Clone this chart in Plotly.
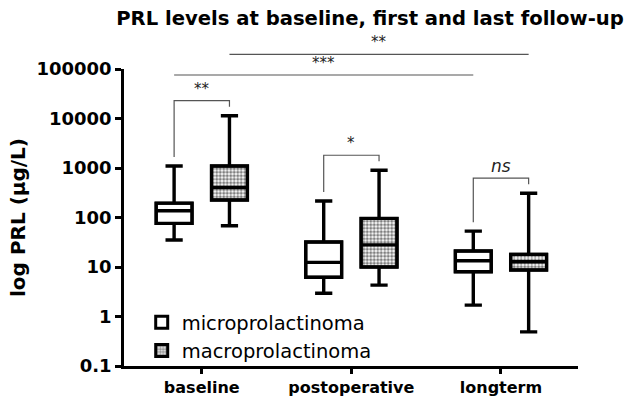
import numpy as np
import plotly.graph_objects as go

categories = ["baseline", "postoperative", "longterm"]
series_names = ["microprolactinoma", "macroprolactinoma"]

micro_min = [35, 2.95, 1.7]
micro_q1 = [76, 6.2, 8.0]
micro_med = [137, 12.4, 13.4]
micro_q3 = [195, 32, 21]
micro_max = [1100, 215, 53]

macro_min = [68, 4.3, 0.49]
macro_q1 = [225, 10, 8.7]
macro_med = [405, 28, 12.8]
macro_q3 = [1100, 96, 18]
macro_max = [11400, 900, 310]

pair_labels = ["**", "*", "ns"]
long_labels = ["***", "**"]

ytick_vals = [0.1, 1, 10, 100, 1000, 10000, 100000]
ytick_text = ["0.1", "1", "10", "100", "1000", "10000", "100000"]

FONT = "DejaVu Sans, Verdana, sans-serif"
OFF = 0.185
W = 0.24
idx = np.arange(len(categories))
xm = idx - OFF
xM = idx + OFF

fig = go.Figure()
fig.add_trace(go.Bar(x=xm, base=micro_q1, y=np.array(micro_q3) - np.array(micro_q1), width=W,
                     marker=dict(color="white", line=dict(color="black", width=3)),
                     name=series_names[0], showlegend=True, hoverinfo="skip"))
fig.add_trace(go.Bar(x=xM, base=macro_q1, y=np.array(macro_q3) - np.array(macro_q1), width=W,
                     marker=dict(color="white", line=dict(color="black", width=3),
                                 pattern=dict(shape=".", fgcolor="black", bgcolor="white", size=3.5, solidity=0.6)),
                     name=series_names[1], showlegend=True, hoverinfo="skip"))
for xs, mn, q1, md, q3, mx in [(xm, micro_min, micro_q1, micro_med, micro_q3, micro_max),
                               (xM, macro_min, macro_q1, macro_med, macro_q3, macro_max)]:
    fig.add_trace(go.Box(x=xs, lowerfence=mn, q1=q1, median=md, q3=q3, upperfence=mx,
                         width=W, whiskerwidth=0.48, boxpoints=False,
                         line=dict(color="black", width=3.4), fillcolor="rgba(0,0,0,0)",
                         showlegend=False, hoverinfo="skip"))

XR = [-0.52, 2.515]
YR = [-1, 5]
PLOT_H = 297.0
def xp(x):
    return (x - XR[0]) / (XR[1] - XR[0])
def yp(v):
    return (np.log10(v) - YR[0]) / (YR[1] - YR[0])
def px(n):
    return n / PLOT_H

shapes = []
annotations = []
LC = "#555555"
for i in range(len(categories)):
    yl = yp(micro_max[i]) + px(9)
    yr = yp(macro_max[i]) + px(9)
    ytop = max(yl, yr) + px(6)
    shapes.append(dict(type="path", xref="paper", yref="paper",
                       path=f"M {xp(xm[i])} {yl} L {xp(xm[i])} {ytop} L {xp(xM[i])} {ytop} L {xp(xM[i])} {yr}",
                       line=dict(color=LC, width=1.2)))
    is_ns = pair_labels[i] == "ns"
    annotations.append(dict(xref="paper", yref="paper", x=xp(idx[i]), y=ytop + px(0 if is_ns else 1),
                            yanchor="bottom", xanchor="center", showarrow=False,
                            text=("<i>" + pair_labels[i] + "</i>") if is_ns else pair_labels[i],
                            font=dict(family=FONT, size=17 if is_ns else 15, color="#222")))

long_specs = [(xm[0], xm[2], 1 - px(75 - 69)), (xM[0], xM[2], 1 + px(69 - 54.3))]
for (x0, x1, yy), lab in zip(long_specs, long_labels):
    shapes.append(dict(type="line", xref="paper", yref="paper", x0=xp(x0), x1=xp(x1), y0=yy, y1=yy,
                       line=dict(color=LC, width=1.2)))
    annotations.append(dict(xref="paper", yref="paper", x=(xp(x0) + xp(x1)) / 2, y=yy + px(1),
                            yanchor="bottom", xanchor="center", showarrow=False, text=lab,
                            font=dict(family=FONT, size=15, color="#222")))

fig.update_layout(
    width=633, height=403,
    margin=dict(l=124, r=55, t=69, b=37),
    paper_bgcolor="white", plot_bgcolor="white",
    barmode="overlay",
    title=dict(text="<b>PRL levels at baseline, first and last follow-up</b>",
               x=370 / 633, xanchor="center", y=1 - 18 / 403, yanchor="middle",
               font=dict(family=FONT, size=19.6, color="black")),
    font=dict(family=FONT, color="black"),
    shapes=shapes, annotations=annotations,
    legend=dict(x=0.039, y=0.212, xanchor="left", yanchor="top", bgcolor="rgba(0,0,0,0)",
                font=dict(family=FONT, size=19.5, color="black"), tracegroupgap=0),
    showlegend=True,
)
fig.update_xaxes(range=XR, tickvals=list(idx), ticktext=[f"<b>{c}</b>" for c in categories],
                 showline=True, linecolor="black", linewidth=2.5, ticks="outside", ticklen=5,
                 tickwidth=2.5, tickcolor="black", showgrid=False, zeroline=False,
                 ticklabelstandoff=0, automargin=False,
                 tickfont=dict(family=FONT, size=16, color="black"))
fig.update_yaxes(type="log", range=YR, tickvals=ytick_vals, ticktext=[f"<b>{t}</b>" for t in ytick_text],
                 showline=True, linecolor="black", linewidth=2.5, ticks="outside", ticklen=6,
                 tickwidth=2.5, tickcolor="black", showgrid=False, zeroline=False, automargin=False,
                 tickfont=dict(family=FONT, size=18, color="black"),
                 title=dict(text="<b>log PRL (µg/L)</b>", font=dict(family=FONT, size=20, color="black"),
                            standoff=6))

fig.write_html("out.html", config={"displayModeBar": False},
               post_script="document.body.style.margin='0';")
